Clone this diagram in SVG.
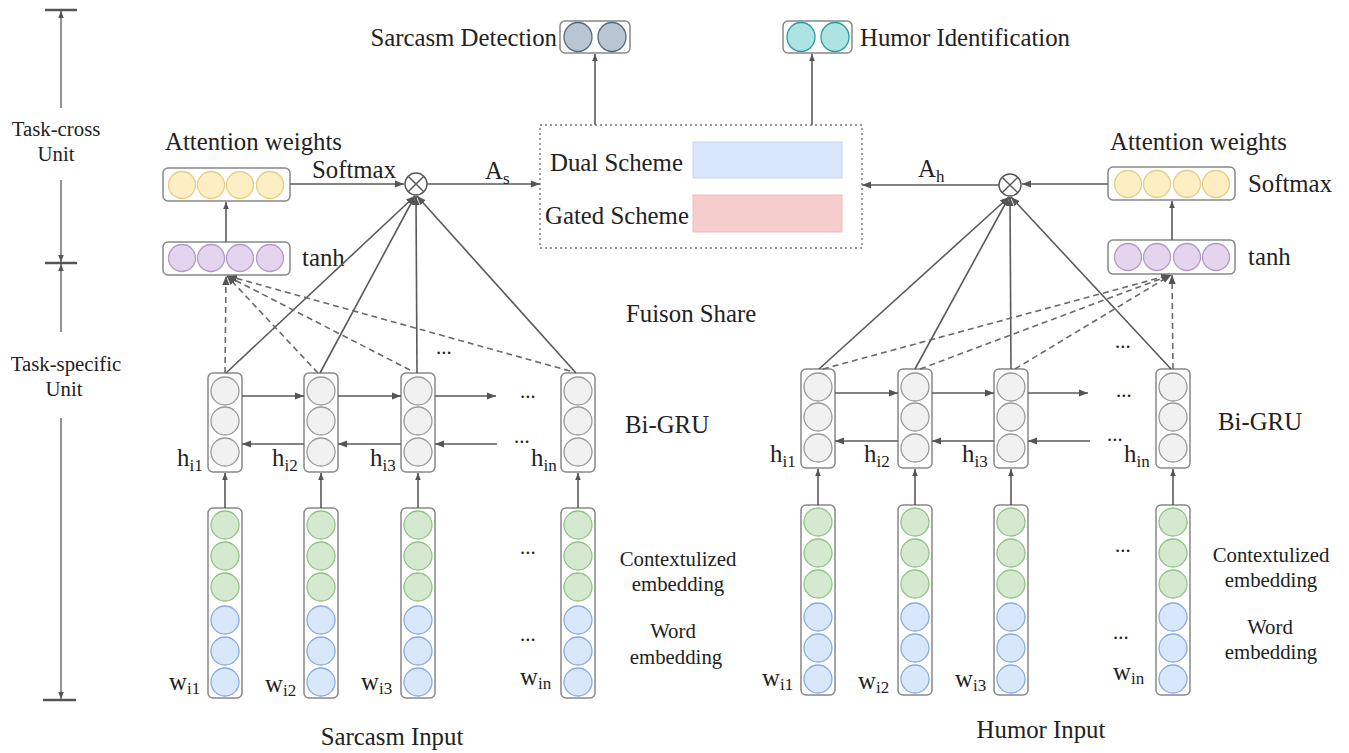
<svg xmlns="http://www.w3.org/2000/svg" width="1349" height="753" viewBox="0 0 1349 753">
<defs>
<style>
text{font-family:"Liberation Serif","Times New Roman",serif;fill:#222;}
.t24{font-size:24.8px;}
.t20{font-size:20.8px;}
.sub{font-size:17px;}
.box{fill:#fff;stroke:#888;stroke-width:1.5;}
.ln{stroke:#5a5a5a;stroke-width:1.6;fill:none;}
.dl{stroke:#6a6a6a;stroke-width:1.6;fill:none;stroke-dasharray:6,4;}
.ax{stroke:#666;stroke-width:1.4;fill:none;}
.bar{stroke:#555;stroke-width:2.5;}
.g{fill:#f1f1f1;stroke:#9a9a9a;stroke-width:1.3;}
.y{fill:#fdefc3;stroke:#e5cf88;stroke-width:1.3;}
.p{fill:#e4d4ee;stroke:#b39acb;stroke-width:1.3;}
.gr{fill:#d5e9d0;stroke:#8fc585;stroke-width:1.3;}
.bl{fill:#d9e7fa;stroke:#8aabdf;stroke-width:1.3;}
</style>
<marker id="ah" viewBox="0 0 10 10" refX="10" refY="5" markerWidth="9" markerHeight="9" markerUnits="userSpaceOnUse" orient="auto"><path d="M0,1 L10,5 L0,9 z" fill="#555"/></marker>
<marker id="ahs" viewBox="0 0 10 10" refX="10" refY="5" markerWidth="7" markerHeight="7" markerUnits="userSpaceOnUse" orient="auto"><path d="M0,1 L10,5 L0,9 z" fill="#555"/></marker>
</defs>
<rect width="1349" height="753" fill="#fff"/>

<g id="axis">
<line class="bar" x1="45" y1="10" x2="77" y2="10"/>
<line class="bar" x1="45" y1="263" x2="77" y2="263"/>
<line class="bar" x1="43" y1="700" x2="76" y2="700"/>
<line class="ax" x1="61" y1="108" x2="61" y2="11" marker-end="url(#ahs)"/>
<line class="ax" x1="61" y1="180" x2="61" y2="262" marker-end="url(#ahs)"/>
<line class="ax" x1="61" y1="332" x2="61" y2="264" marker-end="url(#ahs)"/>
<line class="ax" x1="61" y1="418" x2="61" y2="699" marker-end="url(#ahs)"/>
<text class="t20" x="56" y="136" text-anchor="middle">Task-cross</text>
<text class="t20" x="56" y="161" text-anchor="middle">Unit</text>
<text class="t20" x="66" y="371" text-anchor="middle">Task-specific</text>
<text class="t20" x="64" y="396" text-anchor="middle">Unit</text>
</g>

<g id="out-sarcasm">
<rect class="box" x="560" y="21" width="70" height="32" rx="5"/>
<ellipse cx="578" cy="37" rx="14" ry="14.5" fill="#b8c6d3" stroke="#55697b" stroke-width="1.3"/>
<ellipse cx="612" cy="37" rx="14" ry="14.5" fill="#b8c6d3" stroke="#55697b" stroke-width="1.3"/>
<text class="t24" x="557" y="46" text-anchor="end">Sarcasm Detection</text>
</g>
<g id="out-humor">
<rect class="box" x="783" y="21" width="69" height="32" rx="5"/>
<ellipse cx="801" cy="37" rx="14" ry="14.5" fill="#ade3e3" stroke="#2c9c9c" stroke-width="1.3"/>
<ellipse cx="835" cy="37" rx="14" ry="14.5" fill="#ade3e3" stroke="#2c9c9c" stroke-width="1.3"/>
<text class="t24" x="860" y="46">Humor Identification</text>
</g>

<g id="fusion">
<rect x="540" y="125" width="322" height="123" fill="none" stroke="#777" stroke-width="1.4" stroke-dasharray="2,3"/>
<rect x="693" y="142" width="149" height="36" fill="#d8e7f9" stroke="#c3d6ef" stroke-width="1"/>
<rect x="693" y="195" width="149" height="37" fill="#f6cdcd" stroke="#efbcbc" stroke-width="1"/>
<text class="t24" x="550" y="171">Dual Scheme</text>
<text class="t24" x="545" y="224">Gated Scheme</text>
</g>

<g id="att-left">
<text class="t24" x="165" y="150">Attention weights</text>
<rect class="box" x="163" y="168" width="127" height="33" rx="5"/>
<circle class="y" cx="182" cy="185" r="13.5"/><circle class="y" cx="211" cy="185" r="13.5"/><circle class="y" cx="240" cy="185" r="13.5"/><circle class="y" cx="270" cy="185" r="13.5"/>
<text class="t24" x="312" y="178">Softmax</text>
<rect class="box" x="163" y="242" width="127" height="33" rx="5"/>
<circle class="p" cx="182" cy="258" r="13.5"/><circle class="p" cx="211" cy="258" r="13.5"/><circle class="p" cx="240" cy="258" r="13.5"/><circle class="p" cx="270" cy="258" r="13.5"/>
<text class="t24" x="302" y="266">tanh</text>
</g>
<g id="mult-left">
<circle cx="416" cy="184" r="11" fill="#fff" stroke="#555" stroke-width="1.4"/>
<path d="M408.2,176.2 L423.8,191.8 M423.8,176.2 L408.2,191.8" stroke="#555" stroke-width="1.4"/>
</g>

<g id="att-right">
<text class="t24" x="1110" y="150">Attention weights</text>
<rect class="box" x="1108" y="167" width="127" height="33" rx="5"/>
<circle class="y" cx="1128" cy="184" r="13.5"/><circle class="y" cx="1157" cy="184" r="13.5"/><circle class="y" cx="1187" cy="184" r="13.5"/><circle class="y" cx="1216" cy="184" r="13.5"/>
<text class="t24" x="1248" y="192">Softmax</text>
<rect class="box" x="1108" y="240" width="127" height="34" rx="5"/>
<circle class="p" cx="1128" cy="257" r="13.5"/><circle class="p" cx="1157" cy="257" r="13.5"/><circle class="p" cx="1187" cy="257" r="13.5"/><circle class="p" cx="1216" cy="257" r="13.5"/>
<text class="t24" x="1248" y="265">tanh</text>
</g>
<g id="mult-right">
<circle cx="1010" cy="185" r="11" fill="#fff" stroke="#555" stroke-width="1.4"/>
<path d="M1002.2,177.2 L1017.8,192.8 M1017.8,177.2 L1002.2,192.8" stroke="#555" stroke-width="1.4"/>
</g>

<g id="gru-left">
<rect class="box" x="208" y="373" width="34" height="99" rx="5"/>
<circle class="g" cx="225" cy="391" r="14"/><circle class="g" cx="225" cy="421" r="14"/><circle class="g" cx="225" cy="452" r="14"/>
<rect class="box" x="304" y="373" width="34" height="99" rx="5"/>
<circle class="g" cx="321" cy="391" r="14"/><circle class="g" cx="321" cy="421" r="14"/><circle class="g" cx="321" cy="452" r="14"/>
<rect class="box" x="401" y="373" width="34" height="99" rx="5"/>
<circle class="g" cx="418" cy="391" r="14"/><circle class="g" cx="418" cy="421" r="14"/><circle class="g" cx="418" cy="452" r="14"/>
<rect class="box" x="561" y="373" width="34" height="99" rx="5"/>
<circle class="g" cx="578" cy="391" r="14"/><circle class="g" cx="578" cy="421" r="14"/><circle class="g" cx="578" cy="452" r="14"/>
<text class="t24" x="177" y="466">h<tspan class="sub" dy="5">i1</tspan></text>
<text class="t24" x="272" y="466">h<tspan class="sub" dy="5">i2</tspan></text>
<text class="t24" x="370" y="466">h<tspan class="sub" dy="5">i3</tspan></text>
<text class="t24" x="531" y="466">h<tspan class="sub" dy="5">in</tspan></text>
<text class="t20" x="436" y="354">...</text>
<text class="t20" x="520" y="398">...</text>
<text class="t20" x="514" y="443">...</text>
<text class="t24" x="625" y="433">Bi-GRU</text>
</g>

<g id="gru-right">
<rect class="box" x="801" y="369" width="34" height="99" rx="5"/>
<circle class="g" cx="818" cy="387" r="14"/><circle class="g" cx="818" cy="417" r="14"/><circle class="g" cx="818" cy="448" r="14"/>
<rect class="box" x="898" y="369" width="34" height="99" rx="5"/>
<circle class="g" cx="915" cy="387" r="14"/><circle class="g" cx="915" cy="417" r="14"/><circle class="g" cx="915" cy="448" r="14"/>
<rect class="box" x="994" y="369" width="34" height="99" rx="5"/>
<circle class="g" cx="1011" cy="387" r="14"/><circle class="g" cx="1011" cy="417" r="14"/><circle class="g" cx="1011" cy="448" r="14"/>
<rect class="box" x="1156" y="369" width="34" height="99" rx="5"/>
<circle class="g" cx="1173" cy="387" r="14"/><circle class="g" cx="1173" cy="417" r="14"/><circle class="g" cx="1173" cy="448" r="14"/>
<text class="t24" x="770" y="462">h<tspan class="sub" dy="5">i1</tspan></text>
<text class="t24" x="864" y="462">h<tspan class="sub" dy="5">i2</tspan></text>
<text class="t24" x="962" y="462">h<tspan class="sub" dy="5">i3</tspan></text>
<text class="t24" x="1124" y="462">h<tspan class="sub" dy="5">in</tspan></text>
<text class="t20" x="1115" y="348">...</text>
<text class="t20" x="1116" y="397">...</text>
<text class="t20" x="1107" y="441">...</text>
<text class="t24" x="1218" y="430">Bi-GRU</text>
<text class="t24" x="626" y="322">Fuison Share</text>
</g>

<g id="emb-left">
<rect class="box" x="208" y="508" width="34" height="190" rx="5"/>
<circle class="gr" cx="225" cy="525" r="14"/><circle class="gr" cx="225" cy="556" r="14"/><circle class="gr" cx="225" cy="587" r="14"/>
<circle class="bl" cx="225" cy="620" r="14"/><circle class="bl" cx="225" cy="651" r="14"/><circle class="bl" cx="225" cy="682" r="14"/>
<rect class="box" x="304" y="508" width="34" height="190" rx="5"/>
<circle class="gr" cx="321" cy="525" r="14"/><circle class="gr" cx="321" cy="556" r="14"/><circle class="gr" cx="321" cy="587" r="14"/>
<circle class="bl" cx="321" cy="620" r="14"/><circle class="bl" cx="321" cy="651" r="14"/><circle class="bl" cx="321" cy="682" r="14"/>
<rect class="box" x="401" y="508" width="34" height="190" rx="5"/>
<circle class="gr" cx="418" cy="525" r="14"/><circle class="gr" cx="418" cy="556" r="14"/><circle class="gr" cx="418" cy="587" r="14"/>
<circle class="bl" cx="418" cy="620" r="14"/><circle class="bl" cx="418" cy="651" r="14"/><circle class="bl" cx="418" cy="682" r="14"/>
<rect class="box" x="561" y="508" width="34" height="190" rx="5"/>
<circle class="gr" cx="578" cy="525" r="14"/><circle class="gr" cx="578" cy="556" r="14"/><circle class="gr" cx="578" cy="587" r="14"/>
<circle class="bl" cx="578" cy="620" r="14"/><circle class="bl" cx="578" cy="651" r="14"/><circle class="bl" cx="578" cy="682" r="14"/>
<text class="t24" x="169" y="690">w<tspan class="sub" dy="4">i1</tspan></text>
<text class="t24" x="265" y="692">w<tspan class="sub" dy="4">i2</tspan></text>
<text class="t24" x="361" y="690">w<tspan class="sub" dy="4">i3</tspan></text>
<text class="t24" x="520" y="685">w<tspan class="sub" dy="4">in</tspan></text>
<text class="t20" x="520" y="554">...</text>
<text class="t20" x="520" y="641">...</text>
<text class="t20" x="678" y="566" text-anchor="middle">Contextulized</text>
<text class="t20" x="678" y="591" text-anchor="middle">embedding</text>
<text class="t20" x="673" y="638" text-anchor="middle">Word</text>
<text class="t20" x="676" y="664" text-anchor="middle">embedding</text>
<text class="t24" x="392" y="745" text-anchor="middle">Sarcasm Input</text>
</g>

<g id="emb-right">
<rect class="box" x="801" y="505" width="34" height="190" rx="5"/>
<circle class="gr" cx="818" cy="522" r="14"/><circle class="gr" cx="818" cy="553" r="14"/><circle class="gr" cx="818" cy="584" r="14"/>
<circle class="bl" cx="818" cy="617" r="14"/><circle class="bl" cx="818" cy="648" r="14"/><circle class="bl" cx="818" cy="679" r="14"/>
<rect class="box" x="898" y="505" width="34" height="190" rx="5"/>
<circle class="gr" cx="915" cy="522" r="14"/><circle class="gr" cx="915" cy="553" r="14"/><circle class="gr" cx="915" cy="584" r="14"/>
<circle class="bl" cx="915" cy="617" r="14"/><circle class="bl" cx="915" cy="648" r="14"/><circle class="bl" cx="915" cy="679" r="14"/>
<rect class="box" x="994" y="505" width="34" height="190" rx="5"/>
<circle class="gr" cx="1011" cy="522" r="14"/><circle class="gr" cx="1011" cy="553" r="14"/><circle class="gr" cx="1011" cy="584" r="14"/>
<circle class="bl" cx="1011" cy="617" r="14"/><circle class="bl" cx="1011" cy="648" r="14"/><circle class="bl" cx="1011" cy="679" r="14"/>
<rect class="box" x="1156" y="505" width="34" height="190" rx="5"/>
<circle class="gr" cx="1173" cy="522" r="14"/><circle class="gr" cx="1173" cy="553" r="14"/><circle class="gr" cx="1173" cy="584" r="14"/>
<circle class="bl" cx="1173" cy="617" r="14"/><circle class="bl" cx="1173" cy="648" r="14"/><circle class="bl" cx="1173" cy="679" r="14"/>
<text class="t24" x="762" y="686">w<tspan class="sub" dy="4">i1</tspan></text>
<text class="t24" x="858" y="689">w<tspan class="sub" dy="4">i2</tspan></text>
<text class="t24" x="955" y="687">w<tspan class="sub" dy="4">i3</tspan></text>
<text class="t24" x="1113" y="680">w<tspan class="sub" dy="4">in</tspan></text>
<text class="t20" x="1115" y="552">...</text>
<text class="t20" x="1113" y="639">...</text>
<text class="t20" x="1271" y="562" text-anchor="middle">Contextulized</text>
<text class="t20" x="1271" y="587" text-anchor="middle">embedding</text>
<text class="t20" x="1270" y="634" text-anchor="middle">Word</text>
<text class="t20" x="1271" y="659" text-anchor="middle">embedding</text>
<text class="t24" x="1041" y="738" text-anchor="middle">Humor Input</text>
</g>

<g id="connectors">
<line class="ln" x1="595" y1="125" x2="595" y2="54" marker-end="url(#ahs)"/>
<line class="ln" x1="812" y1="125" x2="812" y2="54" marker-end="url(#ahs)"/>
<line class="ln" x1="427" y1="184" x2="540" y2="184" marker-end="url(#ah)"/>
<text class="t24" x="485" y="179">A<tspan class="sub" dy="5">s</tspan></text>
<line class="ln" x1="999" y1="185" x2="862" y2="185" marker-end="url(#ah)"/>
<text class="t24" x="918" y="177">A<tspan class="sub" dy="5">h</tspan></text>
<line class="ln" x1="290" y1="184" x2="404" y2="184" marker-end="url(#ah)"/>
<line class="ln" x1="1108" y1="184" x2="1022" y2="184" marker-end="url(#ah)"/>
<line class="ln" x1="226" y1="242" x2="226" y2="202" marker-end="url(#ahs)"/>
<line class="ln" x1="1172" y1="240" x2="1172" y2="201" marker-end="url(#ahs)"/>

<line class="ln" x1="226" y1="373" x2="415" y2="196" marker-end="url(#ah)"/>
<line class="ln" x1="320" y1="373" x2="415" y2="196" marker-end="url(#ah)"/>
<line class="ln" x1="417" y1="373" x2="416" y2="196" marker-end="url(#ah)"/>
<line class="ln" x1="576" y1="373" x2="417" y2="196" marker-end="url(#ah)"/>
<line class="dl" x1="225" y1="373" x2="226" y2="276" marker-end="url(#ah)"/>
<line class="dl" x1="318" y1="373" x2="227" y2="276" marker-end="url(#ah)"/>
<line class="dl" x1="410" y1="370" x2="227" y2="276" marker-end="url(#ah)"/>
<line class="dl" x1="570" y1="371" x2="228" y2="276" marker-end="url(#ah)"/>

<line class="ln" x1="819" y1="369" x2="1009" y2="197" marker-end="url(#ah)"/>
<line class="ln" x1="915" y1="369" x2="1009" y2="197" marker-end="url(#ah)"/>
<line class="ln" x1="1011" y1="369" x2="1010" y2="197" marker-end="url(#ah)"/>
<line class="ln" x1="1171" y1="369" x2="1011" y2="197" marker-end="url(#ah)"/>
<line class="dl" x1="823" y1="369" x2="1170" y2="275" marker-end="url(#ah)"/>
<line class="dl" x1="920" y1="369" x2="1171" y2="275" marker-end="url(#ah)"/>
<line class="dl" x1="1015" y1="369" x2="1171" y2="275" marker-end="url(#ah)"/>
<line class="dl" x1="1173" y1="369" x2="1172" y2="275" marker-end="url(#ah)"/>

<line class="ln" x1="242" y1="396" x2="304" y2="396" marker-end="url(#ah)"/>
<line class="ln" x1="338" y1="396" x2="401" y2="396" marker-end="url(#ah)"/>
<line class="ln" x1="435" y1="396" x2="496" y2="396" marker-end="url(#ah)"/>
<line class="ln" x1="304" y1="444" x2="242" y2="444" marker-end="url(#ah)"/>
<line class="ln" x1="401" y1="444" x2="338" y2="444" marker-end="url(#ah)"/>
<line class="ln" x1="497" y1="444" x2="435" y2="444" marker-end="url(#ah)"/>

<line class="ln" x1="835" y1="393" x2="898" y2="393" marker-end="url(#ah)"/>
<line class="ln" x1="932" y1="393" x2="994" y2="393" marker-end="url(#ah)"/>
<line class="ln" x1="1028" y1="393" x2="1088" y2="393" marker-end="url(#ah)"/>
<line class="ln" x1="898" y1="441" x2="835" y2="441" marker-end="url(#ah)"/>
<line class="ln" x1="994" y1="441" x2="932" y2="441" marker-end="url(#ah)"/>
<line class="ln" x1="1090" y1="441" x2="1028" y2="441" marker-end="url(#ah)"/>

<line class="ln" x1="225" y1="508" x2="225" y2="473" marker-end="url(#ahs)"/>
<line class="ln" x1="321" y1="508" x2="321" y2="473" marker-end="url(#ahs)"/>
<line class="ln" x1="418" y1="508" x2="418" y2="473" marker-end="url(#ahs)"/>
<line class="ln" x1="578" y1="508" x2="578" y2="473" marker-end="url(#ahs)"/>
<line class="ln" x1="818" y1="505" x2="818" y2="469" marker-end="url(#ahs)"/>
<line class="ln" x1="915" y1="505" x2="915" y2="469" marker-end="url(#ahs)"/>
<line class="ln" x1="1011" y1="505" x2="1011" y2="469" marker-end="url(#ahs)"/>
<line class="ln" x1="1173" y1="505" x2="1173" y2="469" marker-end="url(#ahs)"/>
</g>
</svg>
